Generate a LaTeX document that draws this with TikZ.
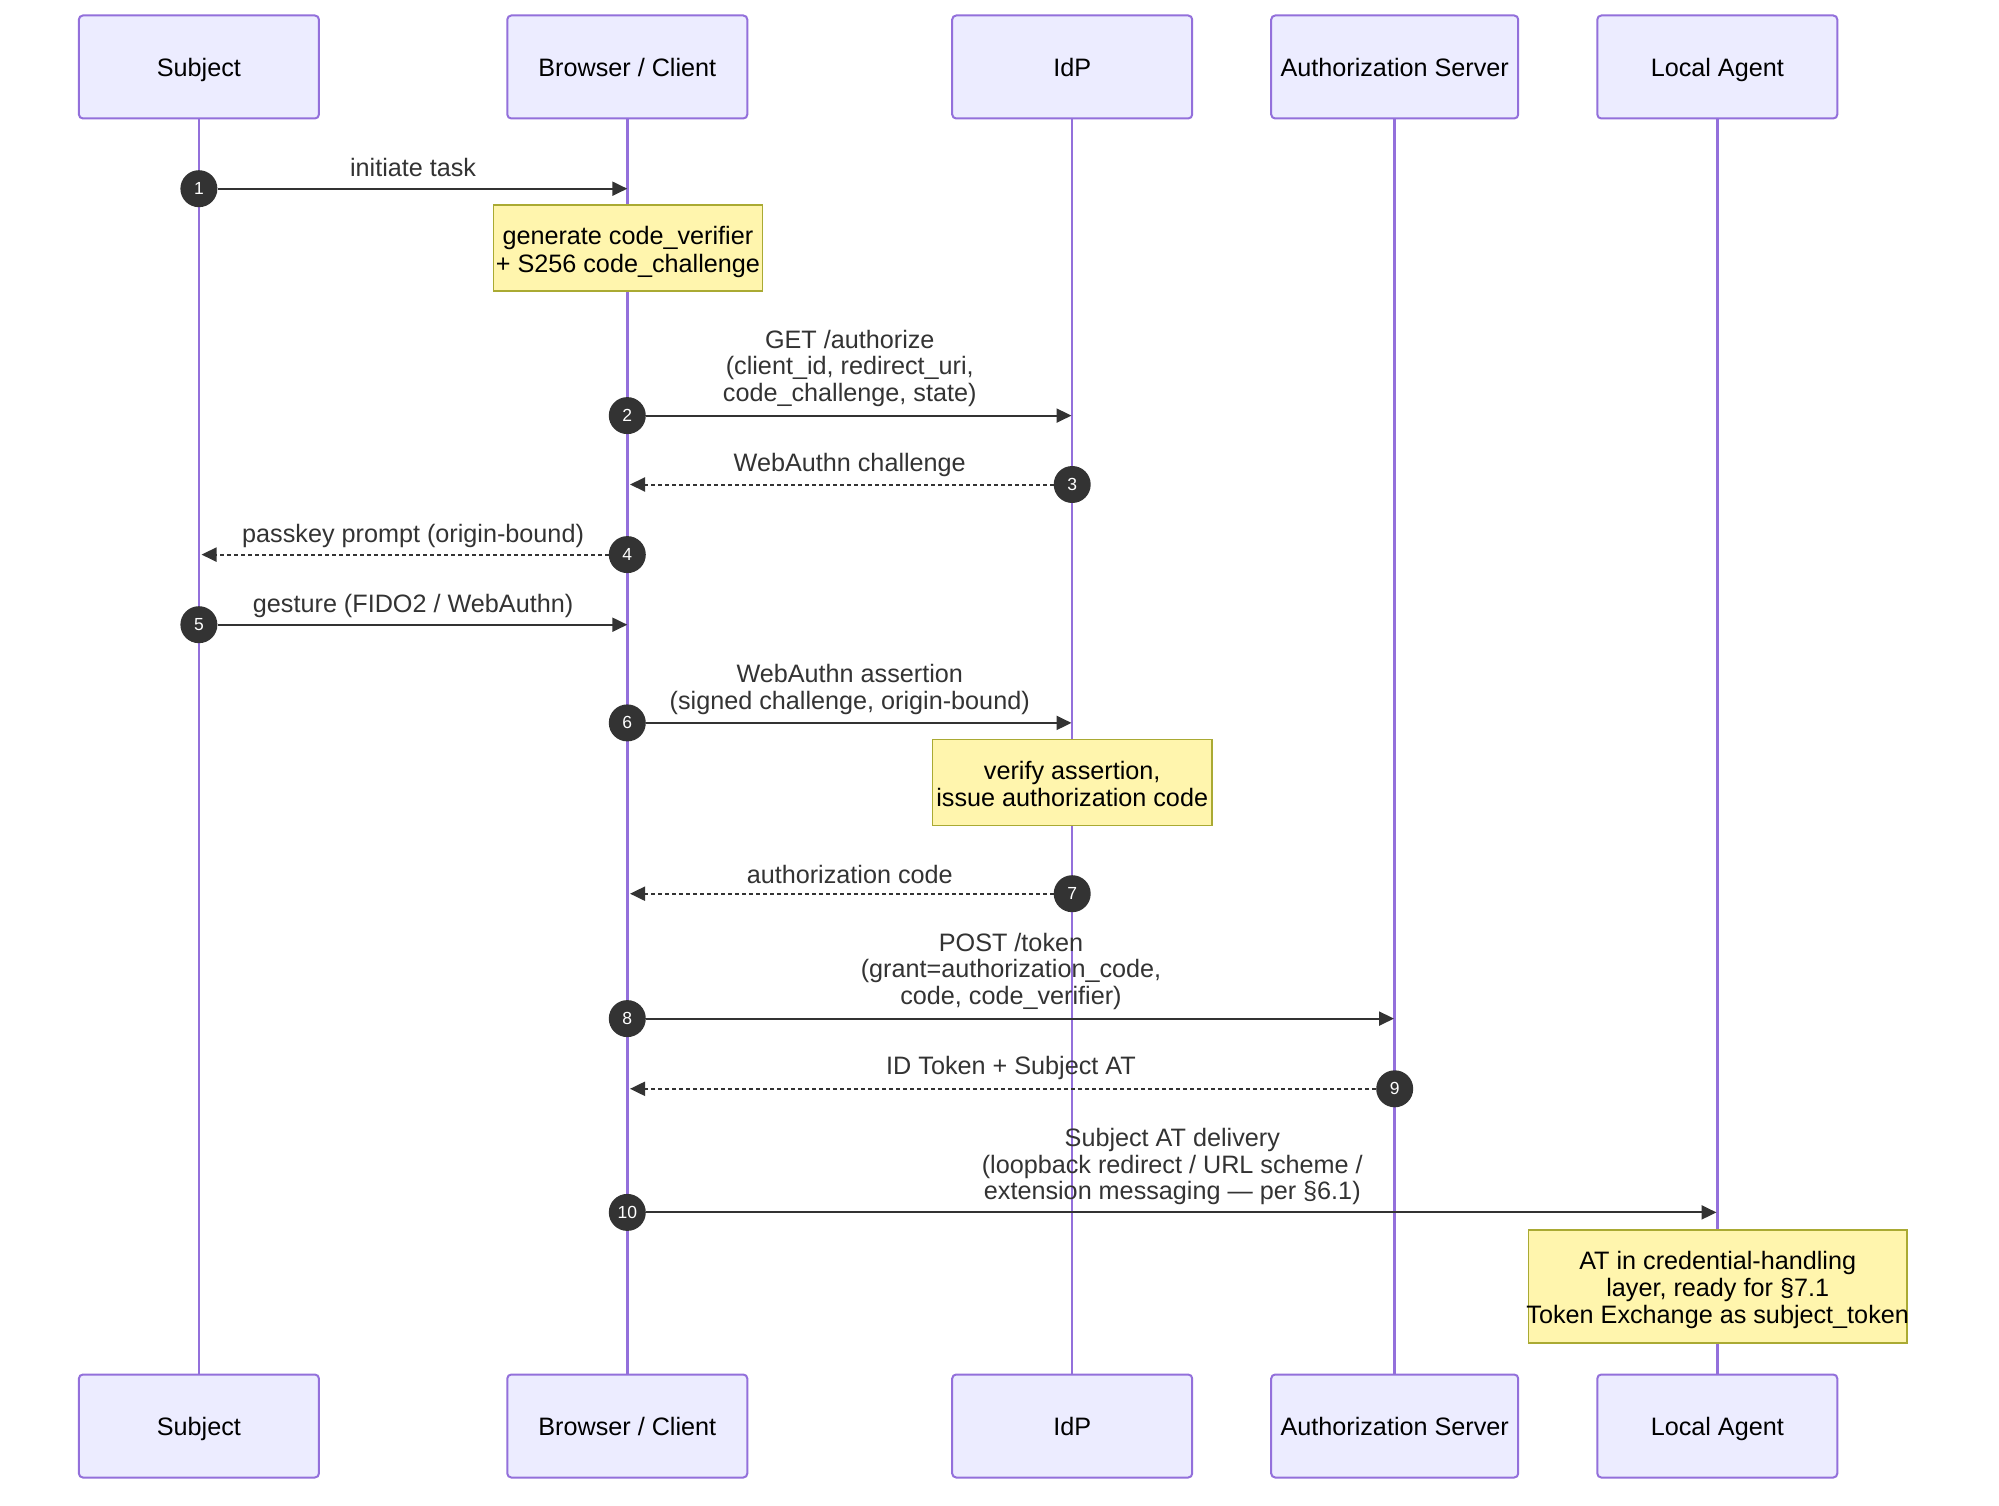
\documentclass[tikz,border=0pt]{standalone}
\usepackage{fontspec}
\setmainfont{Liberation Sans}
\usetikzlibrary{arrows.meta}
\definecolor{actorfill}{HTML}{ECECFF}
\definecolor{actorline}{HTML}{9370DB}
\definecolor{notefill}{HTML}{FFF5AD}
\definecolor{noteline}{HTML}{AAAA33}
\definecolor{msgcol}{HTML}{333333}
\begin{document}
\begin{tikzpicture}[x=1pt,y=-1pt,
  actor/.style={draw=actorline, fill=actorfill, line width=2pt, rounded corners=4pt,
    minimum width=240pt, minimum height=103pt, inner sep=0pt,
    text height=18.5pt, text depth=0pt,
    font=\fontsize{25.2}{27}\selectfont, text=black},
  note/.style={draw=noteline, fill=notefill, line width=1.5pt, inner sep=0pt},
  notetext/.style={align=center, inner sep=0pt, text=black,
    font=\fontsize{25.2}{27.2}\selectfont},
  life/.style={draw=actorline, line width=2.5pt},
  msg/.style={draw=msgcol, line width=2pt, -{Triangle[length=15pt,width=14pt]}},
  reply/.style={msg, dash pattern=on 4pt off 3pt},
  seqnum/.style={circle, fill=msgcol, minimum size=37pt, inner sep=0pt, text=white,
    font=\fontsize{17.5}{17.5}\selectfont},
  lbl/.style={align=center, text=msgcol, inner sep=0pt,
    font=\fontsize{25.2}{26.8}\selectfont}]
\useasboundingbox (0,0) rectangle (1999,1506);
\fill[white] (0,0) rectangle (1999,1506);

% actors top
\node[actor] (sT) at (198.9,67) {Subject};
\node[actor] (bT) at (627.3,67) {Browser / Client};
\node[actor] (iT) at (1072.2,67) {IdP};
\node[actor, minimum width=247pt] (aT) at (1394.7,67) {Authorization Server};
\node[actor] (lT) at (1717.3,67) {Local Agent};
% actors bottom
\node[actor] (sB) at (198.9,1426) {Subject};
\node[actor] (bB) at (627.3,1426) {Browser / Client};
\node[actor] (iB) at (1072.2,1426) {IdP};
\node[actor, minimum width=247pt] (aB) at (1394.7,1426) {Authorization Server};
\node[actor] (lB) at (1717.3,1426) {Local Agent};

% lifelines
\draw[life] (sT.south) -- (sB.north);
\draw[life] (bT.south) -- (bB.north);
\draw[life] (iT.south) -- (iB.north);
\draw[life] (aT.south) -- (aB.north);
\draw[life] (lT.south) -- (lB.north);

% notes
\node[note, minimum width=269pt, minimum height=85.5pt,
  label={[notetext, yshift=-4pt]center:{generate code\_verifier\\+ S256 code\_challenge}}] (note1) at (627.9,248) {};
\node[note, minimum width=279.7pt, minimum height=86.4pt,
  label={[notetext, yshift=-1.5pt]center:{verify assertion,\\issue authorization code}}] (note2) at (1072.2,782.5) {};
\node[note, minimum width=378.7pt, minimum height=113pt,
  label={[notetext, yshift=-3.5pt]center:{AT in credential-handling\\layer, ready for §7.1\\Token Exchange as subject\_token}}] (note3) at (1717.7,1286.5) {};

% message end points
\coordinate (t1) at (627.3,188.7);
\coordinate (t2) at (1071.5,415.6);
\coordinate (t3) at (630,484.5);
\coordinate (t4) at (201.5,554.6);
\coordinate (t5) at (627.3,624.7);
\coordinate (t6) at (1071.5,722.9);
\coordinate (t7) at (630,893.7);
\coordinate (t8) at (1394,1018.6);
\coordinate (t9) at (630,1088.8);
\coordinate (t10) at (1716.5,1212.4);

% sequence numbers
\node[seqnum] (n1) at (198.9,188.7) {1};
\node[seqnum] (n2) at (627.3,415.6) {2};
\node[seqnum] (n3) at (1072.2,484.5) {3};
\node[seqnum] (n4) at (627.3,554.6) {4};
\node[seqnum] (n5) at (198.9,624.7) {5};
\node[seqnum] (n6) at (627.3,722.9) {6};
\node[seqnum] (n7) at (1072.2,893.7) {7};
\node[seqnum] (n8) at (627.3,1018.6) {8};
\node[seqnum] (n9) at (1394.7,1088.8) {9};
\node[seqnum] (n10) at (627.3,1212.4) {10};

% messages
\draw[msg] (n1) -- (t1);
\draw[msg] (n2) -- (t2);
\draw[reply] (n3) -- (t3);
\draw[reply] (n4) -- (t4);
\draw[msg] (n5) -- (t5);
\draw[msg] (n6) -- (t6);
\draw[reply] (n7) -- (t7);
\draw[msg] (n8) -- (t8);
\draw[reply] (n9) -- (t9);
\draw[msg] (n10) -- (t10);

% labels
\node[lbl] (l1) at (413.1,167.5) {initiate task};
\node[lbl] (l2) at (849.75,368.4) {GET /authorize\\(client\_id, redirect\_uri,\\code\_challenge, state)};
\node[lbl] (l3) at (849.75,465.3) {WebAuthn challenge};
\node[lbl] (l4) at (413.1,535.5) {passkey prompt (origin-bound)};
\node[lbl] (l5) at (413.1,605.5) {gesture (FIDO2 / WebAuthn)};
\node[lbl] (l6) at (849.75,689.1) {WebAuthn assertion\\(signed challenge, origin-bound)};
\node[lbl] (l7) at (849.75,874.5) {authorization code};
\node[lbl] (l8) at (1011,971.4) {POST /token\\(grant=authorization\_code,\\code, code\_verifier)};
\node[lbl] (l9) at (1011,1068.3) {ID Token + Subject AT};
\node[lbl] (l10) at (1172.3,1166.5) {Subject AT delivery\\(loopback redirect / URL scheme /\\extension messaging — per §6.1)};
\end{tikzpicture}
\end{document}
